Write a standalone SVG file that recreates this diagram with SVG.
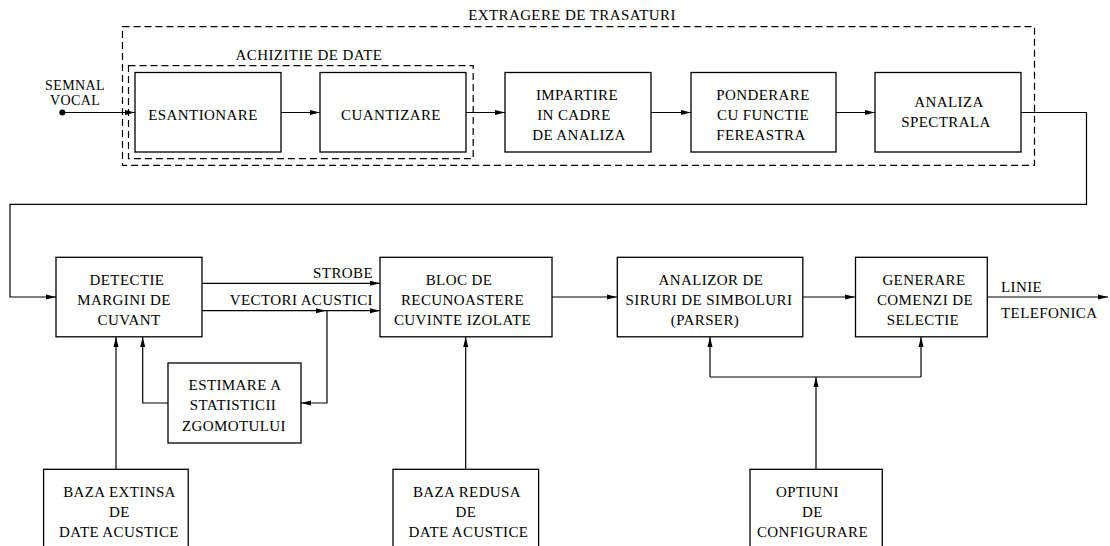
<svg xmlns="http://www.w3.org/2000/svg" width="1110" height="546" viewBox="0 0 1110 546">
<style>
  text { font-family: "Liberation Serif", "Times New Roman", serif; font-size: 15px; fill: #000; letter-spacing: 0.4px; }
  .c { text-anchor: middle; }
  .e { text-anchor: end; }
  .sm { font-size: 14px; }
  .box { fill: #fff; stroke: #000; stroke-width: 1.3; }
  .dash { fill: none; stroke: #000; stroke-width: 1.2; stroke-dasharray: 7 4; }
  .ln { fill: none; stroke: #000; stroke-width: 1.2; }
  .ar { marker-end: url(#arr); }
</style>
<defs>
  <marker id="arr" markerUnits="userSpaceOnUse" markerWidth="10" markerHeight="6" refX="10" refY="3" orient="auto">
    <path d="M0,0.5 L10,3 L0,5.5 z" fill="#000"/>
  </marker>
</defs>
<rect width="1110" height="546" fill="#fff"/>

<g id="extragere-de-trasaturi">
  <rect class="dash" x="122.5" y="26.7" width="912" height="138.6"/>
  <text class="c" x="572" y="20">EXTRAGERE DE TRASATURI</text>
</g>
<g id="achizitie-de-date">
  <rect class="dash" x="128.5" y="65.7" width="344.7" height="93"/>
  <text class="c" x="309" y="60">ACHIZITIE DE DATE</text>
</g>

<g id="connectors">
  <circle cx="62.3" cy="112.5" r="3" fill="#000"/>
  <path class="ln ar" d="M62.3,112.5 H135"/>
  <path class="ln ar" d="M281,112.5 H320"/>
  <path class="ln ar" d="M466,112.5 H505"/>
  <path class="ln ar" d="M651,112.5 H691"/>
  <path class="ln ar" d="M836,112.5 H875"/>
  <path class="ln ar" d="M1021,112.5 H1086.5 V204.3 H10 V297 H56"/>
  <path class="ln ar" d="M202,283.3 H380"/>
  <path class="ln ar" d="M202,310.7 H326"/>
  <path class="ln ar" d="M326,310.7 H380"/>
  <path class="ln ar" d="M327,310.7 V403 H301"/>
  <path class="ln ar" d="M168,403 H142.7 V337"/>
  <path class="ln ar" d="M116,469 V337"/>
  <path class="ln ar" d="M465.7,469 V337"/>
  <path class="ln ar" d="M552,297 H617"/>
  <path class="ln ar" d="M803,297 H855"/>
  <path class="ln ar" d="M987,297 H1108"/>
  <path class="ln ar" d="M816,469 V377"/>
  <path class="ln" d="M710,377 H921"/>
  <path class="ln ar" d="M710,377 V337"/>
  <path class="ln ar" d="M921,377 V337"/>
  <text class="e" x="373" y="278">STROBE</text>
  <text class="e" x="373" y="305">VECTORI ACUSTICI</text>
  <text x="1001" y="292">LINIE</text>
  <text x="1001" y="318">TELEFONICA</text>
</g>

<g id="semnal-vocal">
  <text class="c sm" x="75" y="89.5">SEMNAL</text>
  <text class="c sm" x="75" y="105">VOCAL</text>
</g>

<g id="esantionare">
  <rect class="box" x="135" y="72.5" width="146" height="79.5"/>
  <text class="c" x="203" y="119.5">ESANTIONARE</text>
</g>
<g id="cuantizare">
  <rect class="box" x="320" y="72.5" width="146" height="79.5"/>
  <text class="c" x="391" y="119.5">CUANTIZARE</text>
</g>
<g id="impartire">
  <rect class="box" x="505" y="72.5" width="146" height="79.5"/>
  <text class="c" x="577" y="100">IMPARTIRE</text>
  <text class="c" x="574" y="120">IN CADRE</text>
  <text class="c" x="579" y="140">DE ANALIZA</text>
</g>
<g id="ponderare">
  <rect class="box" x="691" y="72.5" width="145" height="79.5"/>
  <text class="c" x="763" y="100">PONDERARE</text>
  <text class="c" x="763" y="120">CU FUNCTIE</text>
  <text class="c" x="761" y="140">FEREASTRA</text>
</g>
<g id="analiza-spectrala">
  <rect class="box" x="875" y="72.5" width="146" height="79.5"/>
  <text class="c" x="949" y="107">ANALIZA</text>
  <text class="c" x="946" y="127">SPECTRALA</text>
</g>

<g id="detectie">
  <rect class="box" x="56" y="257.3" width="146" height="79.5"/>
  <text class="c" x="127" y="285">DETECTIE</text>
  <text class="c" x="124" y="305">MARGINI DE</text>
  <text class="c" x="129" y="325">CUVANT</text>
</g>
<g id="bloc-recunoastere">
  <rect class="box" x="380" y="257.3" width="172" height="79.5"/>
  <text class="c" x="459" y="285">BLOC DE</text>
  <text class="c" x="462.5" y="305">RECUNOASTERE</text>
  <text class="c" x="462.5" y="325">CUVINTE IZOLATE</text>
</g>
<g id="analizor">
  <rect class="box" x="617.3" y="257.3" width="185.5" height="79.5"/>
  <text class="c" x="711" y="285">ANALIZOR DE</text>
  <text class="c" x="709" y="305">SIRURI DE SIMBOLURI</text>
  <text class="c" x="705" y="325">(PARSER)</text>
</g>
<g id="generare">
  <rect class="box" x="855.5" y="257.3" width="131.8" height="79.5"/>
  <text class="c" x="924" y="285">GENERARE</text>
  <text class="c" x="925" y="305">COMENZI DE</text>
  <text class="c" x="923" y="325">SELECTIE</text>
</g>

<g id="estimare">
  <rect class="box" x="168" y="363" width="133" height="80"/>
  <text class="c" x="235" y="390">ESTIMARE A</text>
  <text class="c" x="233" y="410">STATISTICII</text>
  <text class="c" x="234" y="431">ZGOMOTULUI</text>
</g>

<g id="baza-extinsa">
  <rect class="box" x="43.6" y="469.3" width="144.6" height="90"/>
  <text class="c" x="119.5" y="497">BAZA EXTINSA</text>
  <text class="c" x="119.5" y="517">DE</text>
  <text class="c" x="119" y="537">DATE ACUSTICE</text>
</g>
<g id="baza-redusa">
  <rect class="box" x="393" y="469.3" width="145.6" height="90"/>
  <text class="c" x="467" y="497">BAZA REDUSA</text>
  <text class="c" x="466" y="517">DE</text>
  <text class="c" x="468.5" y="537">DATE ACUSTICE</text>
</g>
<g id="optiuni">
  <rect class="box" x="750" y="469.3" width="132.3" height="90"/>
  <text class="c" x="807.5" y="497">OPTIUNI</text>
  <text class="c" x="812.5" y="517">DE</text>
  <text class="c" x="812.5" y="537">CONFIGURARE</text>
</g>
</svg>
